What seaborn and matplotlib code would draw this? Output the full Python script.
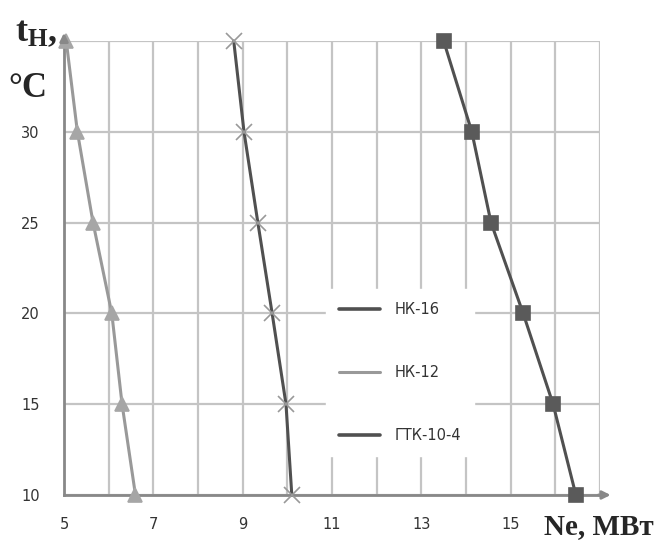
import numpy as np
import pandas as pd
import matplotlib
matplotlib.use("Agg")
import matplotlib.pyplot as plt
from matplotlib.lines import Line2D
import seaborn as sns

temps = [35, 30, 25, 20, 15, 10]
nk16 = [13.5, 14.13, 14.56, 15.28, 15.95, 16.46]
nk12 = [5.05, 5.3, 5.65, 6.07, 6.3, 6.6]
gtk = [8.8, 9.03, 9.34, 9.66, 9.97, 10.1]
series_names = ["НК-16", "НК-12", "ГТК-10-4"]
x_ticks = [5, 7, 9, 11, 13, 15]
y_ticks = [10, 15, 20, 25, 30]

df = pd.DataFrame({
    "t": temps * 3,
    "Ne": nk16 + nk12 + gtk,
    "series": [series_names[0]] * 6 + [series_names[1]] * 6 + [series_names[2]] * 6,
})

sns.set_theme(style="white")
plt.rcParams["font.family"] = ["DejaVu Sans"]
plt.rcParams["mathtext.fontset"] = "custom"
plt.rcParams["mathtext.rm"] = "Liberation Serif:bold"
plt.rcParams["mathtext.bf"] = "Liberation Serif:bold"
plt.rcParams["mathtext.it"] = "Liberation Serif:bold"

fig = plt.figure(figsize=(6.62, 5.46), dpi=100)
ax = fig.add_axes([64 / 662, 51 / 546, 536 / 662, 454 / 546])

colors = {"НК-16": "#505050", "НК-12": "#999999", "ГТК-10-4": "#505050"}
mk = {"НК-16": "s", "НК-12": "^", "ГТК-10-4": "x"}
msz = {"НК-16": 10, "НК-12": 10, "ГТК-10-4": 11}
mcol = {"НК-16": "#5a5a5a", "НК-12": "#a6a6a6", "ГТК-10-4": "#999999"}

for name in series_names:
    sub = df[df.series == name]
    sns.lineplot(data=sub, x="Ne", y="t", ax=ax, sort=False, color=colors[name],
                 linewidth=2.2, marker=mk[name], markersize=msz[name],
                 markerfacecolor=mcol[name], markeredgecolor=mcol[name],
                 markeredgewidth=1.2, legend=False, zorder=3, clip_on=False)

ax.set_xlim(5, 17)
ax.set_ylim(10, 35)
ax.set_xticks(x_ticks)
ax.set_xticks(np.arange(5, 18, 1), minor=True)
ax.set_yticks(y_ticks)
ax.set_yticks([10, 15, 20, 25, 30, 35], minor=True)
ax.grid(True, which="both", color="#c4c4c4", linewidth=1.6, zorder=0)
ax.set_axisbelow(True)
for s in ["top", "right"]:
    ax.spines[s].set_visible(False)
for s in ["left", "bottom"]:
    ax.spines[s].set_color("#888888")
    ax.spines[s].set_linewidth(2)
ax.tick_params(axis="both", which="both", direction="inout", length=7, width=1.5,
               color="#888888", labelsize=10.5, labelcolor="#333333")
ax.tick_params(axis="x", which="major", pad=12)
ax.tick_params(axis="y", which="major", pad=14)
ax.set_xlabel("")
ax.set_ylabel("")

# arrows
ax.annotate("", xy=(17.3, 10), xytext=(16.9, 10), xycoords="data",
            arrowprops=dict(arrowstyle="-|>", color="#888888", lw=2), annotation_clip=False)
ax.annotate("", xy=(5, 35.6), xytext=(5, 34.8), xycoords="data",
            arrowprops=dict(arrowstyle="-|>", color="#888888", lw=2), annotation_clip=False)

handles = [Line2D([0], [0], color=colors[n], lw=2.6 if n != "НК-12" else 2.2) for n in series_names]
leg = ax.legend(handles, series_names, loc="upper left", bbox_to_anchor=(0.475, 0.47),
                frameon=True, fontsize=10.5, labelspacing=3.3, handlelength=2.8,
                handletextpad=1.0, borderpad=0.9)
leg.get_frame().set_facecolor("white")
leg.get_frame().set_edgecolor("white")
leg.get_frame().set_alpha(1)
leg.set_zorder(5)
for t in leg.get_texts():
    t.set_color("#333333")

fig.text(0.022, 0.925, r"$\mathrm{t_{H}}$,", fontsize=26, family="Liberation Serif",
         fontweight="bold")
fig.text(0.012, 0.822, "°C", fontsize=25, family="Liberation Serif", fontweight="bold")
fig.text(0.822, 0.022, "Ne, МВт", fontsize=21, family="Liberation Serif", fontweight="bold")

fig.savefig("out.png", dpi=100, facecolor="white")
